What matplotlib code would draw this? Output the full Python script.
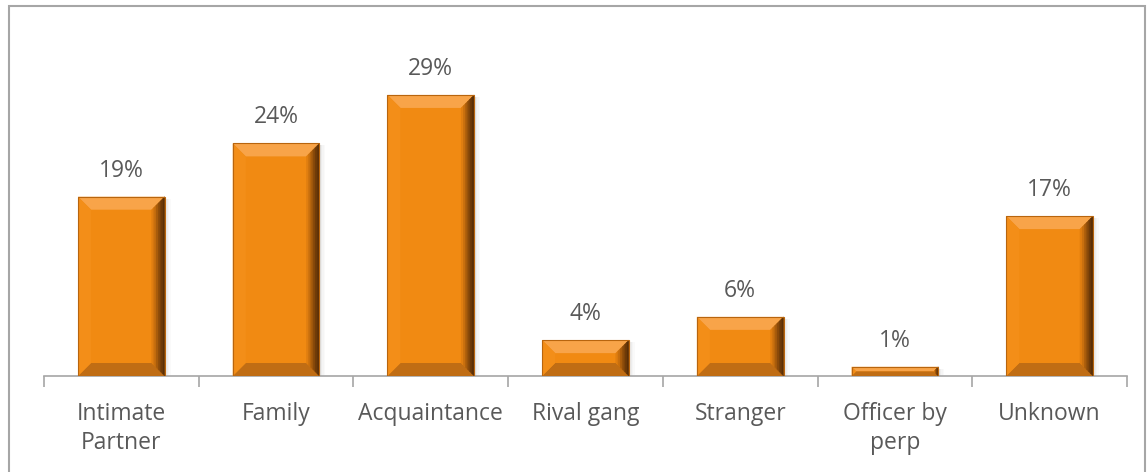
import matplotlib
matplotlib.use("Agg")
import matplotlib.pyplot as plt
from matplotlib.patches import Polygon, Rectangle
import numpy as np

categories = ["Intimate\nPartner", "Family", "Acquaintance", "Rival gang",
              "Stranger", "Officer by\nperp", "Unknown"]
values = [18.5, 24.0, 29.0, 3.7, 6.1, 0.95, 16.5]
labels = ["19%", "24%", "29%", "4%", "6%", "1%", "17%"]

W, H = 1147, 472
plt.rcParams.update({"font.family": ["Open Sans", "DejaVu Sans"]})
fig = plt.figure(figsize=(W / 100, H / 100), dpi=100)
ax = fig.add_axes([44 / W, 1 - 376 / H, (1127 - 44) / W, (376 - 30) / H])

x = np.arange(len(categories))
bw = 0.56
bars = ax.bar(x, values, width=bw, color="#F18A12", edgecolor="none", zorder=2)

ax.set_xlim(-0.5, len(categories) - 0.5)
ax.set_ylim(0, 35.7)
for s in ["top", "right", "left"]:
    ax.spines[s].set_visible(False)
ax.spines["bottom"].set_color("#A6A6A6")
ax.spines["bottom"].set_linewidth(1.2)
ax.set_yticks([])
ax.set_xticks(np.arange(-0.5, len(categories), 1.0))
ax.set_xticklabels([])
ax.tick_params(axis="x", length=8, width=1.2, color="#A6A6A6")

fs = 16.5
px = 72 / 100  # points per pixel
for xi, c in zip(x, categories):
    for k, line in enumerate(c.split("\n")):
        ax.annotate(line, (xi, 0), xytext=(0, -(38 + 29 * k) * px),
                    textcoords="offset points", ha="center", va="center",
                    fontsize=fs, color="#595959")

for xi, v, lab in zip(x, values, labels):
    ax.annotate(lab, (xi, v), xytext=(0, 26 * px), textcoords="offset points",
                ha="center", va="center", fontsize=fs, color="#595959")

# bevel effect drawn in display space around each bar
fig.canvas.draw()
for b in bars:
    (x0, y0), (x1, y1) = ax.transData.transform(
        [(b.get_x(), b.get_y()), (b.get_x() + b.get_width(), b.get_height())])
    d = min(13, (y1 - y0) / 2.0)
    # soft shadow
    for k, a in enumerate([0.12, 0.07, 0.04, 0.02]):
        ax.add_patch(Rectangle((x1 + k * 1.5, y0), 1.5, y1 - y0 - 2, transform=None,
                               facecolor="#000000", alpha=a, edgecolor="none", zorder=1))
    top = [(x0, y1), (x1, y1), (x1 - d, y1 - d), (x0 + d, y1 - d)]
    bot = [(x0, y0), (x1, y0), (x1 - d, y0 + d), (x0 + d, y0 + d)]
    lft = [(x0, y0), (x0, y1), (x0 + d, y1 - d), (x0 + d, y0 + d)]
    for pts, col in [(top, "#F8A449"), (bot, "#C06D14"), (lft, "#F38E18")]:
        ax.add_patch(Polygon(pts, closed=True, transform=None, facecolor=col,
                             edgecolor="none", zorder=3))
    # right side: darkening gradient towards the edge
    shades = ["#E07E10", "#C86F0E", "#A85C0C", "#8A4A0A", "#6E3A08", "#5A2F07"]
    n = len(shades)
    for k, col in enumerate(shades):
        xa = x1 - d + d * k / n
        xb = x1 - d + d * (k + 1) / n
        ya0 = y0 + (x1 - xa)
        ya1 = y1 - (x1 - xa)
        yb0 = y0 + (x1 - xb)
        yb1 = y1 - (x1 - xb)
        ax.add_patch(Polygon([(xa, ya0), (xa, ya1), (xb, yb1), (xb, yb0)],
                             closed=True, transform=None, facecolor=col,
                             edgecolor=col, linewidth=0.3, zorder=3))
    ax.add_patch(Rectangle((x0, y0), x1 - x0, y1 - y0, transform=None,
                           facecolor="none", edgecolor="#B8650E", linewidth=0.8, zorder=4))

fig.patches.append(Rectangle((9 / W, -0.1), (1145 - 9) / W, 1.1 - 6 / H,
                             transform=fig.transFigure, facecolor="none",
                             edgecolor="#A6A6A6", linewidth=1.5))

fig.savefig("out.png", dpi=100)
